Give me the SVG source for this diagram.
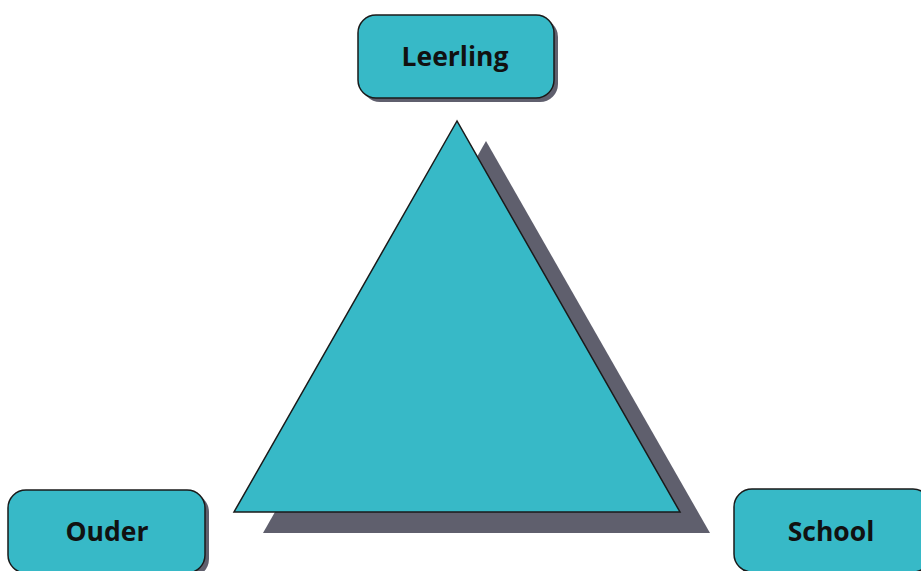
<svg xmlns="http://www.w3.org/2000/svg" width="921" height="571" viewBox="0 0 921 571">
<style>
.box{fill:#37b9c7;stroke:#1a1a1a;stroke-width:1.5}
.sh{fill:#5f5f6d}
.lbl{font-family:"Open Sans","Liberation Sans",sans-serif;font-weight:bold;font-size:26.5px;fill:#111;text-anchor:middle}
</style>
<rect width="921" height="571" fill="#fff"/>
<g id="triangle">
<polygon class="sh" points="486,141 263,533 710,533"/>
<polygon class="box" points="457,121 234,512 680,512"/>
</g>
<g id="leerling">
<rect class="sh" x="362" y="19" width="196" height="83" rx="18"/>
<rect class="box" x="358" y="15" width="196" height="83" rx="18"/>
<text class="lbl" x="455" y="66">Leerling</text>
</g>
<g id="ouder">
<rect class="sh" x="12" y="494" width="197" height="83" rx="18"/>
<rect class="box" x="8" y="490" width="197" height="83" rx="18"/>
<text class="lbl" x="107" y="541">Ouder</text>
</g>
<g id="school">
<rect class="sh" x="738" y="493" width="197" height="83" rx="18"/>
<rect class="box" x="734" y="489" width="197" height="83" rx="18"/>
<text class="lbl" x="831" y="541">School</text>
</g>
<g id="connectors"/>
</svg>
